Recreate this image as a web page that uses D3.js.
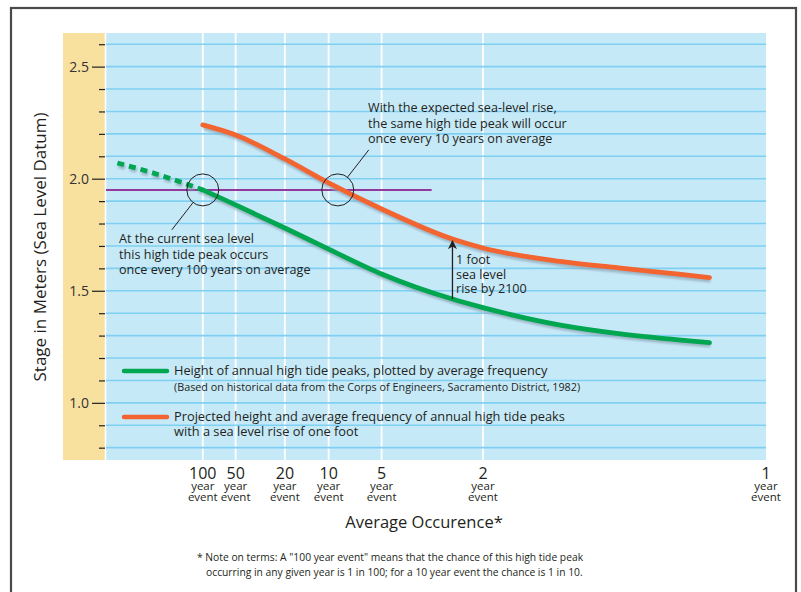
<!DOCTYPE html>
<html><head><meta charset="utf-8">
<script src="https://cdn.jsdelivr.net/npm/d3@7"></script>
<style>
body{margin:0;background:#fff;}
svg{display:block;font-family:"Open Sans",sans-serif;}
</style></head>
<body>
<svg id="c" width="801" height="592"></svg>
<script>
// ---------- DATA ----------
const returnPeriods = [100, 50, 20, 10, 5, 2, 1];          // x tick labels (year event)
const yTickValues = d3.range(8, 27).map(d => d / 10);        // 0.8 .. 2.6
const yLabelValues = [1.0, 1.5, 2.0, 2.5];

// historical (current) curve: annual exceedance probability vs stage (m)
const currentDashProb  = [0.0012, 0.003, 0.01];
const currentDashStage = [2.07, 2.027, 1.95];
const currentProb  = [0.01, 0.02, 0.05, 0.1, 0.2, 0.4, 0.5, 0.74, 0.87, 0.95, 0.97];
const currentStage = [1.95, 1.883, 1.780, 1.686, 1.575, 1.463, 1.425, 1.347, 1.309, 1.280, 1.269];

// projected curve with one foot of sea level rise
const projectedProb  = [0.01, 0.02, 0.05, 0.1, 0.2, 0.4, 0.5, 0.74, 0.87, 0.95, 0.97];
const projectedStage = [2.240, 2.195, 2.088, 1.981, 1.865, 1.731, 1.691, 1.631, 1.602, 1.573, 1.559];

const referenceStage = 1.95;          // purple reference level
const referenceEndProb = 0.335;
const circleProbs = [0.01, 0.114];    // where reference level meets each curve
const arrowProb = 0.4;

// ---------- SCALES ----------
// inverse standard normal CDF (Acklam)
function probit(q){
  if (q <= 0) return -Infinity;
  if (q >= 1) return Infinity;
  const a=[-3.969683028665376e+01,2.209460984245205e+02,-2.759285104469687e+02,1.383577518672690e+02,-3.066479806614716e+01,2.506628277459239e+00];
  const b=[-5.447609879822406e+01,1.615858368580409e+02,-1.556989798598866e+02,6.680131188771972e+01,-1.328068155288572e+01];
  const c=[-7.784894002430293e-03,-3.223964580411365e-01,-2.400758277161838e+00,-2.549732539343734e+00,4.374664141464968e+00,2.938163982698783e+00];
  const d=[7.784695709041462e-03,3.224671290700398e-01,2.445134137142996e+00,3.754408661907416e+00];
  const pl=0.02425, ph=1-pl; let r, s;
  if (q < pl){ s=Math.sqrt(-2*Math.log(q)); return (((((c[0]*s+c[1])*s+c[2])*s+c[3])*s+c[4])*s+c[5])/((((d[0]*s+d[1])*s+d[2])*s+d[3])*s+1); }
  if (q > ph){ s=Math.sqrt(-2*Math.log(1-q)); return -(((((c[0]*s+c[1])*s+c[2])*s+c[3])*s+c[4])*s+c[5])/((((d[0]*s+d[1])*s+d[2])*s+d[3])*s+1); }
  s=q-0.5; r=s*s;
  return (((((a[0]*r+a[1])*r+a[2])*r+a[3])*r+a[4])*r+a[5])*s/(((((b[0]*r+b[1])*r+b[2])*r+b[3])*r+b[4])*r+1);
}

const plotL = 106, plotR = 766, plotT = 33, plotB = 460;
const zScale = d3.scaleLinear().domain([3.13, -2.35]).range([plotL, plotR]).clamp(true);
const x = p => zScale(probit(1 - p));
const y = d3.scaleLinear().domain([0.745, 2.65]).range([plotB, plotT]);

const svg = d3.select("#c");
const ink = "#231f20";

// outer frame
svg.append("rect").attr("x",11).attr("y",8).attr("width",785).attr("height",600)
  .attr("fill","#fff").attr("stroke","#4a4a4a").attr("stroke-width",2.2);

// tan band & blue plot area
svg.append("rect").attr("x",63).attr("y",plotT).attr("width",plotL-63).attr("height",plotB-plotT).attr("fill","#f8e09f");
svg.append("rect").attr("x",plotL).attr("y",plotT).attr("width",plotR-plotL).attr("height",plotB-plotT).attr("fill","#c6e9f8");
svg.append("line").attr("x1",plotL-0.5).attr("x2",plotL-0.5).attr("y1",plotT).attr("y2",plotB)
  .attr("stroke","#fff").attr("stroke-width",1.6);

// vertical white gridlines
svg.append("g").selectAll("line").data(returnPeriods.filter(t => t > 1)).join("line")
  .attr("x1", t => x(1/t)).attr("x2", t => x(1/t))
  .attr("y1", plotT).attr("y2", plotB)
  .attr("stroke","#fff").attr("stroke-width",1.8);

// horizontal grid lines
svg.append("g").selectAll("line").data(yTickValues).join("line")
  .attr("x1", plotL).attr("x2", plotR)
  .attr("y1", d => y(d)).attr("y2", d => y(d))
  .attr("stroke","#7fcff2").attr("stroke-width",1.6);

// y axis
const isMajor = d => yLabelValues.some(v => Math.abs(v-d) < 1e-6);
const yAxis = d3.axisLeft(y).tickValues(yTickValues).tickSize(6).tickPadding(3).tickFormat(() => "");
const gy = svg.append("g").attr("transform",`translate(${plotL-1},0)`).call(yAxis);
gy.select(".domain").remove();
gy.selectAll(".tick line").attr("stroke",ink).attr("stroke-width",1.2)
  .attr("x2", d => isMajor(d) ? -13 : -6);
gy.selectAll(".tick").filter(isMajor)
  .select("text").attr("x",-16).attr("dy","0.36em")
  .text(d => d3.format(".1f")(d))
  .attr("fill","#333").style("font-size","14px").style("font-family","'Open Sans',sans-serif");

svg.append("text").attr("transform",`translate(46,247) rotate(-90)`)
  .attr("text-anchor","middle").attr("fill",ink).style("font-size","17px")
  .text("Stage in Meters (Sea Level Datum)");

// x axis labels (number / year / event stacked in one text element)
const xl = svg.append("g").selectAll("text").data(returnPeriods).join("text")
  .attr("text-anchor","middle").attr("fill",ink)
  .attr("transform", t => `translate(${x(1/t)},0)`);
xl.append("tspan").attr("x",0).attr("y",479).style("font-size","16px").text(t => t);
xl.append("tspan").attr("x",0).attr("y",490).style("font-size","11.5px").text("year");
xl.append("tspan").attr("x",0).attr("y",501).style("font-size","11.5px").text("event");

svg.append("text").attr("x",424).attr("y",528).attr("text-anchor","middle")
  .attr("fill",ink).style("font-size","16.5px").text("Average Occurence*");

svg.append("text").attr("x",197).attr("y",561).attr("fill",ink).style("font-size","10.3px")
  .text('* Note on terms: A "100 year event" means that the chance of this high tide peak');
svg.append("text").attr("x",206).attr("y",576).attr("fill",ink).style("font-size","10.3px")
  .text('occurring in any given year is 1 in 100; for a 10 year event the chance is 1 in 10.');

// reference (purple) level
svg.append("line").attr("x1",plotL).attr("x2",x(referenceEndProb))
  .attr("y1",y(referenceStage)).attr("y2",y(referenceStage))
  .attr("stroke","#93399c").attr("stroke-width",2);

// curves
const line = d3.line().x(d => x(d[0])).y(d => y(d[1])).curve(d3.curveMonotoneX);
const zip = (a, b) => a.map((v, i) => [v, b[i]]);
const defs = svg.append("defs");
defs.append("filter").attr("id","blur").append("feGaussianBlur").attr("stdDeviation",0.8);

function drawCurve(data, color, dash){
  svg.append("path").attr("d", line(data)).attr("fill","none")
    .attr("stroke","#8ea6b6").attr("stroke-width",5).attr("opacity",0.75)
    .attr("transform","translate(1,2.5)").attr("filter","url(#blur)")
    .attr("stroke-dasharray", dash || null);
  svg.append("path").attr("d", line(data)).attr("fill","none")
    .attr("stroke",color).attr("stroke-width",4.8).attr("stroke-linecap", dash ? "butt" : "round")
    .attr("stroke-dasharray", dash || null);
}
drawCurve(zip(currentDashProb, currentDashStage), "#00a650", "7,5");
drawCurve(zip(currentProb, currentStage), "#00a650");
drawCurve(zip(projectedProb, projectedStage), "#f26430");

// circles
svg.append("g").selectAll("circle").data(circleProbs).join("circle")
  .attr("cx", p => x(p)).attr("cy", y(referenceStage)).attr("r",16)
  .attr("fill","none").attr("stroke",ink).attr("stroke-width",1);

// leader lines
const c0x = x(circleProbs[0]), c1x = x(circleProbs[1]), cy = y(referenceStage);
svg.append("line").attr("x1",c0x-10).attr("y1",cy+13).attr("x2",c0x-31).attr("y2",cy+40)
  .attr("stroke",ink).attr("stroke-width",1);
svg.append("line").attr("x1",c1x+10).attr("y1",cy-13).attr("x2",c1x+31).attr("y2",cy-40)
  .attr("stroke",ink).attr("stroke-width",1);

// annotations
function multiText(xp, yp, lines, size, lh){
  const t = svg.append("text").attr("x",xp).attr("y",yp).attr("fill",ink).style("font-size",size+"px");
  lines.forEach((s,i) => t.append("tspan").attr("x",xp).attr("y",yp+i*lh).text(s));
}
multiText(368, 112, ["With the expected sea-level rise,","the same high tide peak will occur","once every 10 years on average"], 12.6, 15.5);
multiText(119, 243, ["At the current sea level","this high tide peak occurs","once every 100 years on average"], 12.6, 15.5);
multiText(456, 264, ["1 foot","sea level","rise by 2100"], 12.6, 14.5);

// arrow (1 foot rise)
const ai = currentProb.indexOf(arrowProb), aj = projectedProb.indexOf(arrowProb);
const ax = x(arrowProb);
defs.append("marker").attr("id","ah").attr("viewBox","0 0 10 10").attr("refX",9).attr("refY",5)
  .attr("markerWidth",7).attr("markerHeight",7).attr("orient","auto-start-reverse")
  .append("path").attr("d","M0,0 L10,5 L0,10 L3,5 Z").attr("fill",ink);
svg.append("line").attr("x1",ax).attr("x2",ax).attr("y1",y(currentStage[ai])).attr("y2",y(projectedStage[aj])+2)
  .attr("stroke",ink).attr("stroke-width",1.3).attr("marker-end","url(#ah)");

// legend
const legend = [
  {color:"#00a650", y:371, lines:["Height of annual high tide peaks, plotted by average frequency"],
   sub:"(Based on historical data from the Corps of Engineers, Sacramento District, 1982)"},
  {color:"#f26430", y:417, lines:["Projected height and average frequency of annual high tide peaks","with a sea level rise of one foot"]}
];
legend.forEach(l => {
  svg.append("line").attr("x1",124).attr("x2",167).attr("y1",l.y).attr("y2",l.y)
    .attr("stroke",l.color).attr("stroke-width",4.5).attr("stroke-linecap","round");
  multiText(174, l.y+4, l.lines, 12.8, 15);
  if (l.sub) svg.append("text").attr("x",174).attr("y",l.y+19.5).attr("fill",ink)
    .style("font-size","10.8px").text(l.sub);
});
</script>
</body></html>
